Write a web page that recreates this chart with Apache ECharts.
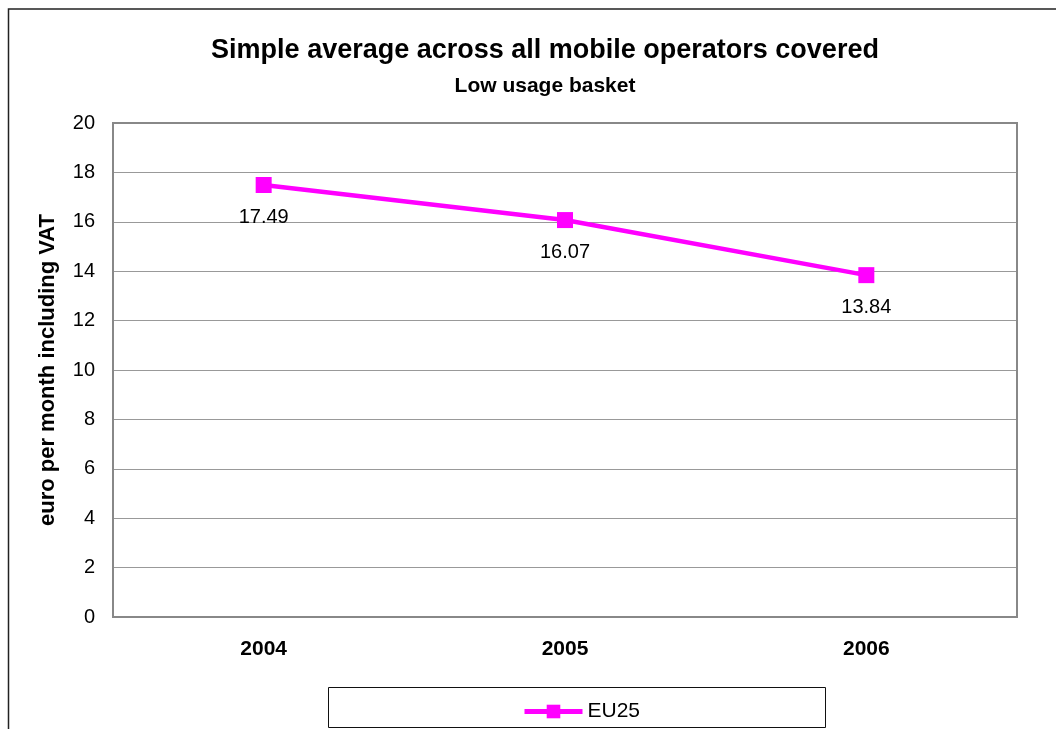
<!DOCTYPE html>
<html>
<head>
<meta charset="utf-8">
<script src="https://cdn.jsdelivr.net/npm/echarts@6/dist/echarts.min.js"></script>
<style>
html,body{margin:0;padding:0;background:#fff;}
#chart{width:1056px;height:729px;}
</style>
</head>
<body>
<div id="chart"></div>
<script>
const categories = ['2004', '2005', '2006'];
const eu25 = [17.49, 16.07, 13.84];
const seriesName = 'EU25';
const titleText = 'Simple average across all mobile operators covered';
const subtitleText = 'Low usage basket';
const yAxisName = 'euro per month including VAT';

const chart = echarts.init(document.getElementById('chart'), null, {renderer: 'canvas'});
const font = 'Liberation Sans, Arial, sans-serif';
chart.setOption({
  animation: false,
  backgroundColor: '#fff',
  textStyle: {fontFamily: font},
  title: {
    text: titleText,
    subtext: subtitleText,
    left: 540,
    textAlign: 'center',
    top: 32,
    itemGap: 12,
    textStyle: {fontSize: 27, fontWeight: 'bold', color: '#000', fontFamily: font},
    subtextStyle: {fontSize: 21, fontWeight: 'bold', color: '#000', fontFamily: font}
  },
  graphic: [
    {type: 'rect', shape: {x: 8.5, y: 9, width: 1100, height: 800}, style: {fill: 'none', stroke: '#222', lineWidth: 1.5}, z: -10},
    {type: 'rect', shape: {x: 328.5, y: 687.5, width: 497, height: 40}, style: {fill: '#fff', stroke: '#111', lineWidth: 1}, z: -5},
    {type: 'rect', shape: {x: 113, y: 123, width: 904, height: 494}, style: {fill: 'none', stroke: '#888', lineWidth: 2}, z: 1}
  ],
  legend: {
    data: [seriesName],
    left: 517,
    top: 696,
    itemWidth: 58,
    itemHeight: 17,
    itemGap: 4,
    lineStyle: {width: 5},
    textStyle: {fontSize: 21, color: '#000', fontFamily: font}
  },
  grid: {left: 113, right: 39, top: 123, bottom: 112, containLabel: false},
  xAxis: {
    type: 'category',
    data: categories,
    boundaryGap: true,
    axisLine: {show: true, lineStyle: {color: '#888', width: 2}},
    axisTick: {show: false},
    axisLabel: {fontSize: 21, fontWeight: 'bold', color: '#000', margin: 22, fontFamily: font}
  },
  yAxis: {
    type: 'value',
    min: 0, max: 20, interval: 2,
    name: yAxisName,
    nameLocation: 'middle',
    nameGap: 54,
    nameTextStyle: {fontSize: 22, fontWeight: 'bold', color: '#000', fontFamily: font},
    axisLine: {show: true, lineStyle: {color: '#888', width: 2}},
    axisTick: {show: false},
    axisLabel: {fontSize: 20, color: '#000', margin: 18, fontFamily: font},
    splitLine: {show: true, lineStyle: {color: '#999', width: 1}}
  },
  series: [{
    name: seriesName,
    type: 'line',
    data: eu25,
    symbol: 'rect',
    symbolSize: 16,
    lineStyle: {color: '#FF00FF', width: 4.5},
    itemStyle: {color: '#FF00FF'},
    label: {show: true, position: 'bottom', distance: 14, fontSize: 20, color: '#000', fontFamily: font, formatter: p => p.value.toFixed(2)}
  }]
});
</script>
</body>
</html>
